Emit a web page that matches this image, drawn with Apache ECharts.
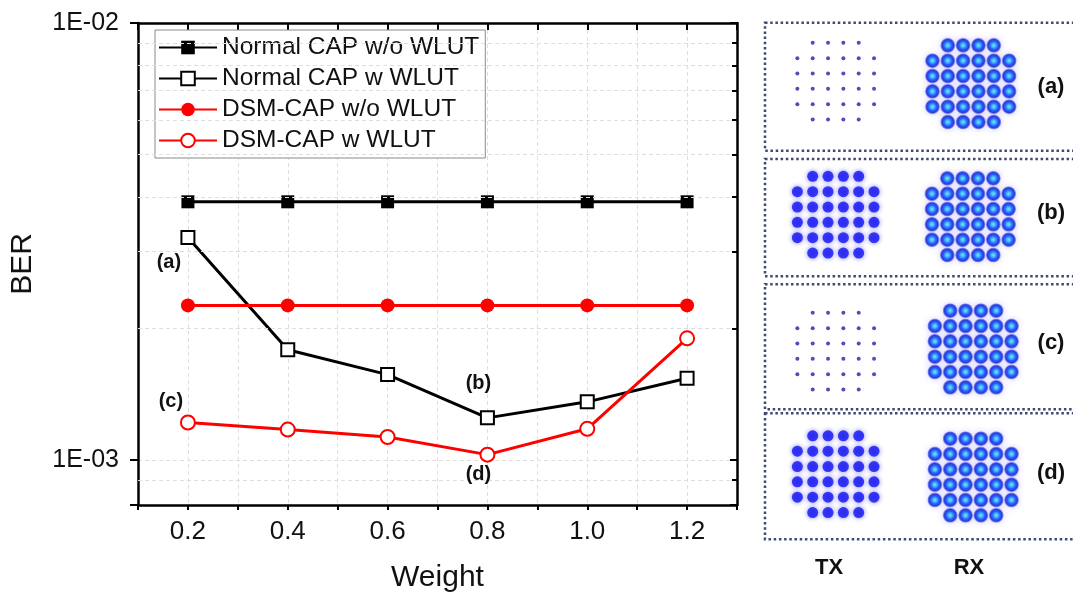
<!DOCTYPE html>
<html>
<head>
<meta charset="utf-8">
<title>BER vs Weight</title>
<script src="https://cdn.jsdelivr.net/npm/echarts@6.0.0/dist/echarts.min.js"></script>
<style>
  html, body { margin: 0; padding: 0; background: #fff; }
  #main { width: 1073px; height: 598px; }
</style>
</head>
<body>
<div id="main"></div>
<script>
// x values (weight)
const weights = [0.2, 0.4, 0.6, 0.8, 1.0, 1.2];
// BER for each curve
const normalCapNoWlut = [3.9e-3, 3.9e-3, 3.9e-3, 3.9e-3, 3.9e-3, 3.9e-3];
const normalCapWlut = [3.23e-3, 1.79e-3, 1.57e-3, 1.25e-3, 1.36e-3, 1.54e-3];
const dsmCapNoWlut = [2.26e-3, 2.26e-3, 2.26e-3, 2.26e-3, 2.26e-3, 2.26e-3];
const dsmCapWlut = [1.22e-3, 1.175e-3, 1.13e-3, 1.03e-3, 1.18e-3, 1.9e-3];
const seriesNames = ['Normal CAP w/o WLUT', 'Normal CAP w WLUT', 'DSM-CAP w/o WLUT', 'DSM-CAP w WLUT'];
// minor grid / tick values on the log axis
const yMinorTicks = [9e-4, 2e-3, 3e-3, 4e-3, 5e-3, 6e-3, 7e-3, 8e-3, 9e-3];
// 32-QAM (cross) levels used by the constellations
const qamLevels = [-5, -3, -1, 1, 3, 5];
const panelLabels = ['(a)', '(b)', '(c)', '(d)'];
const columnLabels = ['TX', 'RX'];

const FONT = 'Liberation Sans, Arial, sans-serif';
const GRID_COLOR = '#dedede';
const chart = echarts.init(document.getElementById('main'));

function pairs(ys) {
  return weights.map((w, i) => [w, ys[i]]);
}

// point annotations (a)-(d), attached to data points
const notes = [
  { s: 1, i: 0, text: '(a)', offset: [-19, 25] },
  { s: 1, i: 3, text: '(b)', offset: [-9, -34] },
  { s: 3, i: 0, text: '(c)', offset: [-17, -21] },
  { s: 3, i: 3, text: '(d)', offset: [-9, 20] }
];

const curveData = [normalCapNoWlut, normalCapWlut, dsmCapNoWlut, dsmCapWlut].map(pairs);
const curveStyle = [
  { color: '#000', symbol: 'rect', size: 13 },
  { color: '#000', symbol: 'emptyRect', size: 13 },
  { color: '#ff0000', symbol: 'circle', size: 14 },
  { color: '#ff0000', symbol: 'emptyCircle', size: 14 }
];

const lineSeries = curveData.map((d, s) => {
  const st = curveStyle[s];
  const data = d.map((p, i) => {
    const n = notes.find(x => x.s === s && x.i === i);
    if (!n) return p;
    return {
      value: p,
      label: {
        show: true, formatter: n.text, position: 'inside', offset: n.offset,
        color: '#111', fontFamily: FONT, fontWeight: 'bold', fontSize: 20
      }
    };
  });
  return {
    name: seriesNames[s],
    type: 'line',
    xAxisIndex: 0,
    yAxisIndex: 0,
    data: data,
    symbol: st.symbol,
    symbolSize: st.size,
    showAllSymbol: true,
    lineStyle: { color: st.color, width: 3 },
    itemStyle: { color: st.color, borderColor: st.color, borderWidth: st.symbol.indexOf('empty') === 0 ? 1.6 : 0 },
    emphasis: { disabled: true },
    z: 3 + s
  };
});

// minor grid lines and minor ticks on the log axis
const minorLines = [];
yMinorTicks.forEach(v => {
  minorLines.push([{ coord: [0.1, v] }, { coord: [1.3, v], lineStyle: { color: GRID_COLOR, width: 1, type: [4, 3] } }]);
  minorLines.push([{ coord: [0.092, v] }, { coord: [0.1, v], lineStyle: { color: '#000', width: 2, type: 'solid' } }]);
  minorLines.push([{ coord: [1.29, v] }, { coord: [1.3, v], lineStyle: { color: '#000', width: 2, type: 'solid' } }]);
});
const helperSeries = {
  type: 'line',
  data: [],
  xAxisIndex: 0,
  yAxisIndex: 0,
  clip: false,
  silent: true,
  markLine: {
    silent: true,
    animation: false,
    symbol: ['none', 'none'],
    label: { show: false },
    data: minorLines
  },
  z: 1
};

// constellation panels
const qamPoints = [];
qamLevels.forEach(ix => {
  qamLevels.forEach(iy => {
    if (Math.abs(ix) === 5 && Math.abs(iy) === 5) return;
    qamPoints.push([ix, iy]);
  });
});

const panelBoxes = [
  { top: 22.7, bottom: 150.7 },
  { top: 159, bottom: 276.3 },
  { top: 284.3, bottom: 409.3 },
  { top: 413.3, bottom: 539.3 }
];
// grid centres [x, y] for TX and RX of each panel
const txCentres = [[835.7, 81.2], [835.7, 214.7], [835.7, 351.2], [835.7, 474.2]];
const rxCentres = [[970.8, 83.7], [970.3, 216.7], [973.2, 349], [973.2, 477]];
const txBig = [false, true, false, true];
const panelLabelY = [87, 213, 343, 473];
const GS = 92;

const rxColor = new echarts.graphic.RadialGradient(0.5, 0.5, 0.5, [
  { offset: 0, color: '#8af8e0' },
  { offset: 0.3, color: '#27b8ff' },
  { offset: 0.52, color: '#0a55ff' },
  { offset: 0.78, color: '#0a1ec8' },
  { offset: 1, color: 'rgba(50,50,230,0.35)' }
]);

const grids = [{ left: 137, right: 336, top: 23, bottom: 90 }];
const xAxes = [];
const yAxes = [];
const constSeries = [];
let gi = 1;
function addConst(centre, style) {
  grids.push({ left: centre[0] - GS / 2, top: centre[1] - GS / 2, width: GS, height: GS });
  xAxes.push({ type: 'value', gridIndex: gi, min: -6, max: 6, show: false });
  yAxes.push({ type: 'value', gridIndex: gi, min: -6, max: 6, show: false });
  constSeries.push(Object.assign({
    type: 'scatter',
    xAxisIndex: gi + 1,
    yAxisIndex: gi + 1,
    data: qamPoints,
    silent: true,
    clip: false,
    emphasis: { disabled: true }
  }, style));
  gi++;
}
for (let p = 0; p < 4; p++) {
  addConst(txCentres[p], txBig[p]
    ? { symbolSize: 11, itemStyle: { color: '#1414f0', shadowBlur: 5, shadowColor: 'rgba(60,60,255,0.8)' } }
    : { symbolSize: 4, itemStyle: { color: '#2222a8' } });
  addConst(rxCentres[p], {
    symbolSize: 15,
    itemStyle: { color: rxColor, shadowBlur: 6, shadowColor: 'rgba(40,40,255,0.75)' }
  });
}

const graphics = [];
panelBoxes.forEach((b, p) => {
  graphics.push({
    type: 'rect',
    shape: { x: 765, y: b.top, width: 330, height: b.bottom - b.top },
    style: { fill: 'none', stroke: '#3f4a70', lineWidth: 2.5, lineDash: [2.5, 2.7] },
    silent: true
  });
  graphics.push({
    type: 'text', x: 1051, y: panelLabelY[p],
    style: { text: panelLabels[p], font: 'bold 22px ' + FONT, fill: '#111', align: 'center', verticalAlign: 'middle' }
  });
});
[829, 969].forEach((x, k) => {
  graphics.push({
    type: 'text', x: x, y: 568,
    style: { text: columnLabels[k], font: 'bold 22px ' + FONT, fill: '#111', align: 'center', verticalAlign: 'middle' }
  });
});

function isDecade(v) {
  const l = Math.log10(v);
  return Math.abs(l - Math.round(l)) < 1e-6;
}

const option = {
  backgroundColor: '#fff',
  animation: false,
  textStyle: { fontFamily: FONT },
  grid: grids,
  legend: {
    data: seriesNames,
    orient: 'vertical',
    left: 155,
    top: 30,
    padding: [5, 6, 5, 3],
    itemWidth: 58,
    itemHeight: 17,
    itemGap: 6,
    backgroundColor: '#fff',
    borderColor: '#8a8a8a',
    borderWidth: 1,
    selectedMode: false,
    textStyle: { fontFamily: FONT, fontSize: 24.5, lineHeight: 25, color: '#111' }
  },
  xAxis: [
    {
      type: 'value', gridIndex: 0, position: 'bottom',
      min: 0.1, max: 1.3, interval: 0.1,
      name: 'Weight', nameLocation: 'middle', nameGap: 58,
      nameTextStyle: { fontFamily: FONT, fontSize: 30, color: '#111' },
      axisLine: { lineStyle: { color: '#000', width: 2.5 } },
      axisTick: { inside: false, length: 5, lineStyle: { color: '#000', width: 2 } },
      axisLabel: {
        margin: 14, fontSize: 26, color: '#111', fontFamily: FONT,
        formatter: v => {
          const k = Math.round(v * 10);
          return (k % 2 === 0 && k >= 2 && k <= 12) ? (k / 10).toFixed(1) : '';
        }
      },
      splitLine: { show: true, lineStyle: { color: GRID_COLOR, width: 1, type: [4, 3] } }
    },
    {
      type: 'value', gridIndex: 0, position: 'top',
      min: 0.1, max: 1.3, interval: 0.1,
      axisLine: { lineStyle: { color: '#000', width: 2.5 } },
      axisTick: { inside: true, length: 7, lineStyle: { color: '#000', width: 2 } },
      axisLabel: { show: false },
      splitLine: { show: false }
    }
  ].concat(xAxes),
  yAxis: [
    {
      type: 'log', gridIndex: 0, position: 'left',
      min: 7.9e-4, max: 1e-2, logBase: 10,
      name: 'BER', nameLocation: 'middle', nameGap: 100,
      nameTextStyle: { fontFamily: FONT, fontSize: 30, color: '#111' },
      axisLine: { lineStyle: { color: '#000', width: 2.5 } },
      axisTick: { inside: false, length: 8, lineStyle: { color: '#000', width: 2 } },
      axisLabel: {
        margin: 19, fontSize: 25, color: '#111', fontFamily: FONT,
        formatter: v => isDecade(v) ? '1E-0' + (-Math.round(Math.log10(v))) : ''
      },
      splitLine: { show: true, lineStyle: { color: GRID_COLOR, width: 1, type: [4, 3] } }
    },
    {
      type: 'log', gridIndex: 0, position: 'right',
      min: 7.9e-4, max: 1e-2, logBase: 10,
      axisLine: { lineStyle: { color: '#000', width: 2.5 } },
      axisTick: { inside: true, length: 7, lineStyle: { color: '#000', width: 2 } },
      axisLabel: { show: false },
      splitLine: { show: false }
    }
  ].concat(yAxes),
  series: [helperSeries].concat(lineSeries, constSeries),
  graphic: graphics
};

chart.setOption(option);
</script>
</body>
</html>
